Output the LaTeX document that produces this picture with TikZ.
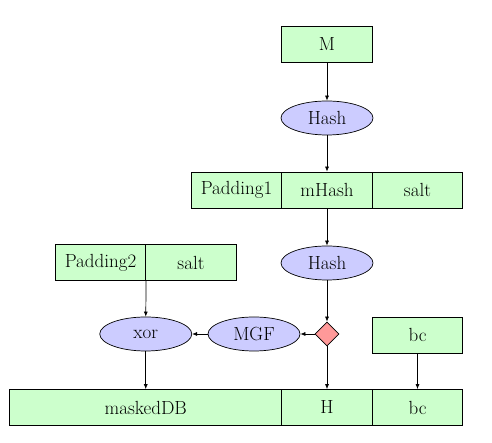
\documentclass[tikz,border=0pt]{standalone}
\usetikzlibrary{shapes.geometric,arrows.meta}
\definecolor{boxgreen}{RGB}{204,255,204}
\definecolor{ellblue}{RGB}{204,204,255}
\definecolor{diared}{RGB}{255,153,153}
\begin{document}
\begin{tikzpicture}[x=1pt,y=1pt,
  every node/.style={font=\fontsize{19}{22}\selectfont},
  gbox/.style={draw,fill=boxgreen,minimum width=90.5pt,minimum height=36pt,inner sep=0pt,line width=0.7pt},
  bell/.style={draw,ellipse,fill=ellblue,minimum width=92pt,minimum height=34pt,inner sep=0pt,line width=0.7pt},
  dia/.style={draw,diamond,fill=diared,minimum width=24pt,minimum height=24pt,inner sep=0pt,line width=0.7pt},
  arr/.style={-{Latex[length=5pt,width=4pt]},line width=0.7pt}]
\useasboundingbox (0,0) rectangle (492,443);
\node[gbox] (M) at (327,398.5) {M};
\node[bell] (hash1) at (327,325) {Hash};
\node[gbox] (pad1) at (236.5,253) {Padding1};
\node[gbox] (mhash) at (327,253) {mHash};
\node[gbox] (salt1) at (417.5,253) {salt};
\node[bell] (hash2) at (327,180) {Hash};
\node[gbox] (pad2) at (100.5,180.5) {Padding2};
\node[gbox] (salt2) at (191,180.5) {salt};
\node[bell] (xor) at (145.75,109) {xor};
\node[bell] (mgf) at (254,109) {MGF};
\node[dia] (d) at (327,109) {};
\node[gbox] (bc1) at (417.5,108) {bc};
\node[gbox,minimum width=272pt] (mdb) at (145.75,35.5) {maskedDB};
\node[gbox] (H) at (327,35.5) {H};
\node[gbox] (bc2) at (417.5,35.5) {bc};
\draw[arr] (M) -- (hash1);
\draw[arr] (hash1) -- (mhash);
\draw[arr] (mhash) -- (hash2);
\draw[arr] (hash2) -- (d);
\draw[arr] (d) -- (mgf);
\draw[arr] (mgf) -- (xor);
\draw[arr] (pad2.south east) -- (xor.north);
\draw[arr] (xor) -- (mdb);
\draw[arr] (d) -- (H);
\draw[arr] (bc1) -- (bc2);
\end{tikzpicture}
\end{document}
